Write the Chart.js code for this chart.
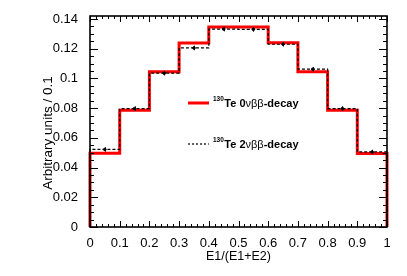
<!DOCTYPE html>
<html>
<head>
<meta charset="utf-8">
<script src="https://cdn.jsdelivr.net/npm/chart.js@4.4.1/dist/chart.umd.min.js"></script>
<style>
  body { margin: 0; background: #fff; }
  #wrap { width: 407px; height: 276px; }
</style>
</head>
<body>
<div id="wrap"><canvas id="histChart"></canvas></div>
<script>
// bin edges of the E1/(E1+E2) histogram
const binLow = [0, 0.1, 0.2, 0.3, 0.4, 0.5, 0.6, 0.7, 0.8, 0.9];
const binHigh = 1.0;
const binCenter = [0.05, 0.15, 0.25, 0.35, 0.45, 0.55, 0.65, 0.75, 0.85, 0.95];

// 130Te 0vbb-decay (red) and 2vbb-decay (black dashed, with errors)
const zeroNu = [0.0497, 0.0785, 0.1045, 0.1238, 0.1346, 0.1346, 0.1240, 0.1045, 0.0785, 0.0495];
const twoNu = [0.0522, 0.0797, 0.1035, 0.1205, 0.1332, 0.1330, 0.1230, 0.1062, 0.0797, 0.0505];
const twoNuErr = [0.0015, 0.0015, 0.0015, 0.0015, 0.0015, 0.0015, 0.0015, 0.0015, 0.0015, 0.0015];

const xTicks = [0, 0.1, 0.2, 0.3, 0.4, 0.5, 0.6, 0.7, 0.8, 0.9, 1];
const yTicks = [0, 0.02, 0.04, 0.06, 0.08, 0.1, 0.12, 0.14];
const yMax = 0.142;

const FONT = "'Liberation Sans', Arial, sans-serif";

function stepPoints(values) {
  const pts = [{ x: binLow[0], y: 0 }];
  values.forEach((v, i) => pts.push({ x: binLow[i], y: v }));
  pts.push({ x: binHigh, y: values[values.length - 1] });
  pts.push({ x: binHigh, y: 0 });
  return pts;
}

const rootStyle = {
  id: "rootStyle",
  afterDatasetsDraw(chart) {
    const { ctx, chartArea: a, scales: { x, y } } = chart;
    ctx.save();

    // error bars of the 2vbb points
    ctx.strokeStyle = "#000";
    ctx.lineWidth = 1;
    binCenter.forEach((c, i) => {
      const px = Math.round(x.getPixelForValue(c)) + 0.5;
      ctx.beginPath();
      ctx.moveTo(px, y.getPixelForValue(twoNu[i] - twoNuErr[i]));
      ctx.lineTo(px, y.getPixelForValue(twoNu[i] + twoNuErr[i]));
      ctx.stroke();
    });

    // frame
    ctx.lineWidth = 1.6;
    ctx.strokeRect(a.left, a.top, a.right - a.left, a.bottom - a.top);

    // ticks inside the frame, on all four sides
    ctx.lineWidth = 1;
    ctx.beginPath();
    for (let k = 0; k <= 50; k++) {
      const px = Math.round(x.getPixelForValue(k * 0.02)) + 0.5;
      const len = k % 5 === 0 ? 6 : 3;
      ctx.moveTo(px, a.bottom); ctx.lineTo(px, a.bottom - len);
      ctx.moveTo(px, a.top); ctx.lineTo(px, a.top + len);
    }
    for (let k = 0; k * 0.005 <= yMax; k++) {
      const py = Math.round(y.getPixelForValue(k * 0.005)) + 0.5;
      const len = k % 4 === 0 ? 8 : 4;
      ctx.moveTo(a.left, py); ctx.lineTo(a.left + len, py);
      ctx.moveTo(a.right, py); ctx.lineTo(a.right - len, py);
    }
    ctx.stroke();
    ctx.restore();
  },
  afterDraw(chart) {
    const { ctx, chartArea: a } = chart;
    ctx.save();
    ctx.fillStyle = "#000";

    // axis titles
    ctx.font = "12.5px " + FONT;
    ctx.textAlign = "center";
    ctx.textBaseline = "middle";
    ctx.fillText("E1/(E1+E2)", (a.left + a.right) / 2, 257);
    ctx.save();
    ctx.translate(48, 133);
    ctx.rotate(-Math.PI / 2);
    ctx.font = "13.5px " + FONT;
    ctx.fillText("Arbitrary units / 0.1", 0, 0);
    ctx.restore();

    // legend
    const entries = [
      { num: "0", color: "#ff0000", width: 3, dash: [], y: 103 },
      { num: "2", color: "#000", width: 1.2, dash: [2, 2], y: 144 }
    ];
    ctx.textAlign = "left";
    ctx.textBaseline = "alphabetic";
    entries.forEach(e => {
      ctx.strokeStyle = e.color;
      ctx.lineWidth = e.width;
      ctx.setLineDash(e.dash);
      ctx.beginPath();
      ctx.moveTo(188, e.y); ctx.lineTo(209, e.y);
      ctx.stroke();
      ctx.setLineDash([]);
      let tx = 213;
      const base = e.y + 4;
      ctx.font = "bold 6.5px " + FONT;
      ctx.fillText("130", tx, base - 6);
      tx += ctx.measureText("130").width + 0.5;
      ctx.font = "bold 11px " + FONT;
      const p1 = "Te " + e.num;
      ctx.fillText(p1, tx, base);
      tx += ctx.measureText(p1).width;
      ctx.font = "11px " + FONT;
      ctx.fillText("\u03BD\u03B2\u03B2", tx, base);
      tx += ctx.measureText("\u03BD\u03B2\u03B2").width;
      ctx.font = "bold 11px " + FONT;
      ctx.fillText("-decay", tx, base);
    });
    ctx.restore();
  }
};

new Chart(document.getElementById("histChart").getContext("2d"), {
  type: "scatter",
  data: {
    datasets: [
      {
        label: "130Te 0vbb-decay",
        data: stepPoints(zeroNu),
        showLine: true,
        stepped: "before",
        borderColor: "#ff0000",
        borderWidth: 3,
        pointRadius: 0,
        clip: 3,
        order: 3,
      },
      {
        label: "130Te 2vbb-decay",
        data: stepPoints(twoNu),
        showLine: true,
        stepped: "before",
        borderColor: "#000",
        borderWidth: 1.2,
        borderDash: [3, 2],
        pointRadius: 0,
        clip: 3,
        order: 2,
      },
      {
        label: "points",
        data: binCenter.map((c, i) => ({ x: c, y: twoNu[i] })),
        backgroundColor: "#000",
        borderColor: "#000",
        pointRadius: 1.3,
        order: 1,
      },
    ],
  },
  options: {
    responsive: true,
    maintainAspectRatio: false,
    animation: false,
    layout: { padding: { left: 0, right: 20, top: 16, bottom: 0 } },
    plugins: { legend: { display: false }, tooltip: { enabled: false } },
    scales: {
      x: {
        type: "linear",
        min: 0,
        max: 1,
        grid: { display: false },
        border: { display: false },
        afterBuildTicks: s => { s.ticks = xTicks.map(v => ({ value: v })); },
        afterFit: s => { s.height = 49; },
        ticks: {
          color: "#000",
          font: { family: FONT, size: 13 },
          padding: 1,
          maxRotation: 0,
          callback: v => String(+v.toFixed(1)),
        },
      },
      y: {
        min: 0,
        max: yMax,
        grid: { display: false },
        border: { display: false },
        afterBuildTicks: s => { s.ticks = yTicks.map(v => ({ value: v })); },
        afterFit: s => { s.width = 90; },
        ticks: {
          color: "#000",
          font: { family: FONT, size: 13 },
          padding: 4,
          callback: v => String(+v.toFixed(2)),
        },
      },
    },
  },
  plugins: [rootStyle],
});
</script>
</body>
</html>
